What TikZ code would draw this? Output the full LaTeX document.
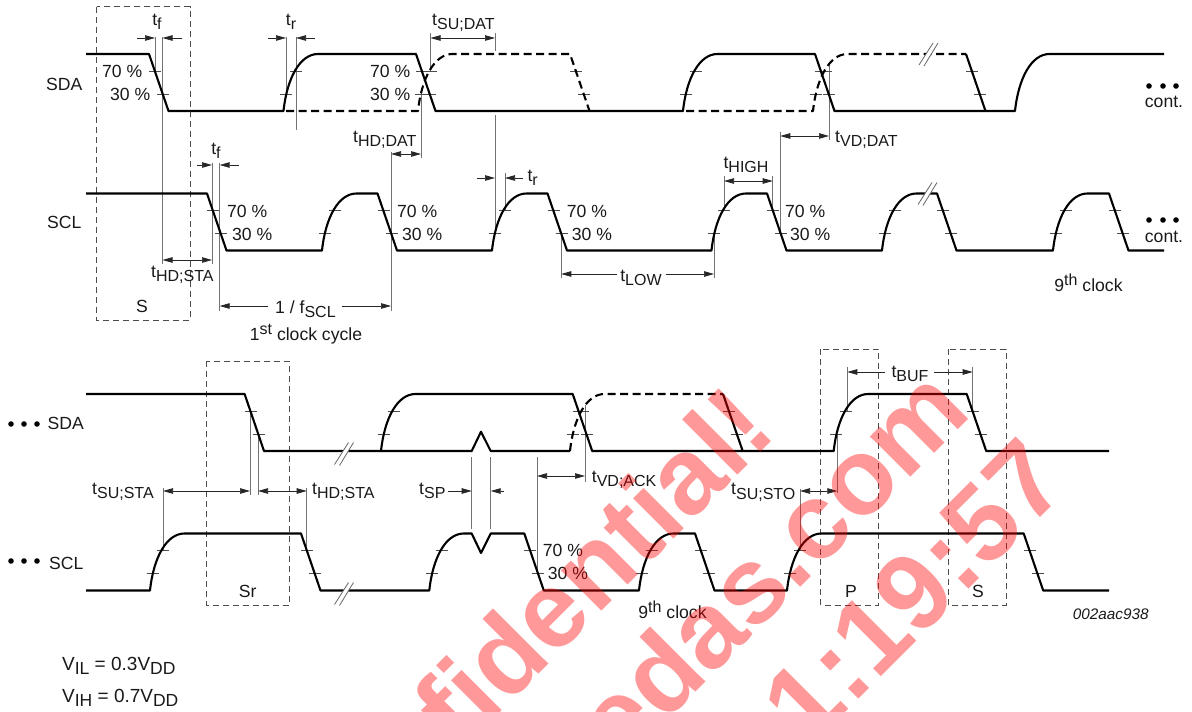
\documentclass[tikz,border=0pt]{standalone}
\usepackage{fontspec}
\setmainfont{Liberation Sans}
\usetikzlibrary{arrows.meta}
\newcommand\rs{.. controls +(3.5,-33) and +(-18,0) .. ++(34.5,-57)}
\newcommand\fsz{\fontsize{17.6}{20}\selectfont}
\newcommand\ssz{\fontsize{16}{18}\selectfont}
\newcommand\tm[1]{t\raisebox{-4.5pt}{\ssz #1}}
\newcommand\fallt[2]{\draw[tickln] ({#1},{#2+17}) -- ({#1+12},{#2+17}); \draw[tickln] ({#1+8},{#2+40}) -- ({#1+20},{#2+40});}
\newcommand\riset[2]{\draw[tickln] ({#1-3.5},{#2-17}) -- ({#1+8.5},{#2-17}); \draw[tickln] ({#1+6.5},{#2-40}) -- ({#1+18.5},{#2-40});}
\newcommand\brk[2]{\fill[white] ({#1-9},{#2+11}) -- ({#1+5},{#2-11}) -- ({#1+10},{#2-11}) -- ({#1-4},{#2+12}) -- cycle;
  \draw[brkln] ({#1-9},{#2+11}) -- ({#1+5},{#2-11}); \draw[brkln] ({#1-4},{#2+12}) -- ({#1+10},{#2-11});}
\tikzset{
  wave/.style={line width=2.1pt,black,line join=round},
  dwave/.style={wave,dash pattern=on 8pt off 4.5pt},
  tickln/.style={line width=.8pt,black!70},
  brkln/.style={line width=.8pt,black!60},
  vline/.style={line width=.9pt,black!55},
  boxln/.style={line width=.9pt,black!70,dash pattern=on 6pt off 4pt},
  dim/.style={line width=.7pt,black!85,-{Triangle[length=10pt,width=5.5pt]}},
  ddim/.style={line width=.7pt,black!85,{Triangle[length=10pt,width=5.5pt]}-{Triangle[length=10pt,width=5.5pt]}},
  lab/.style={inner sep=0pt,text=black!90,font=\fsz},
  wm/.style={inner sep=0pt,text=red,opacity=.4,rotate=45,anchor=base east,font=\fontsize{108}{112}\selectfont\bfseries},
  dot/.style={circle,fill=black,inner sep=0pt,minimum size=5.6pt}
}
\begin{document}
\begin{tikzpicture}[x=1pt,y=-1pt]
\useasboundingbox (0,0) rectangle (1192,712);
% dashed boxes
\draw[boxln] (96.7,6.5) rectangle (190,320);
\draw[boxln] (206.7,361) rectangle (289.3,605);
\draw[boxln] (820.7,349) rectangle (878.7,605);
\draw[boxln] (948.3,349) rectangle (1006.3,605);
% vertical extension lines, row 1
\draw[vline] (155,37) -- (155,71);
\draw[vline] (162.5,37) -- (162.5,264);
\draw[vline] (286,37) -- (286,94);
\draw[vline] (296,37) -- (296,130);
\draw[vline] (430.5,33) -- (430.5,71);
\draw[vline] (495,33) -- (495,51);
\draw[vline] (495,115) -- (495,234);
\draw[vline] (421,88) -- (421,158);
\draw[vline] (391,152) -- (391,311);
\draw[vline] (212,163) -- (212,264);
\draw[vline] (219.7,163) -- (219.7,311);
\draw[vline] (505,173) -- (505,211);
\draw[vline] (561.3,234) -- (561.3,278);
\draw[vline] (714,234) -- (714,278);
\draw[vline] (724,176) -- (724,211);
\draw[vline] (772.7,176) -- (772.7,211);
\draw[vline] (780.3,132) -- (780.3,234);
\draw[vline] (829,65) -- (829,140);
% vertical extension lines, row 2
\draw[vline] (163,488) -- (163,551);
\draw[vline] (250,411) -- (250,495);
\draw[vline] (258,434) -- (258,495);
\draw[vline] (306.7,488) -- (306.7,551);
\draw[vline] (471.7,457) -- (471.7,529);
\draw[vline] (490.7,457) -- (490.7,529);
\draw[vline] (537,457) -- (537,574);
\draw[vline] (585,405) -- (585,482);
\draw[vline] (800,489) -- (800,551);
\draw[vline] (837.3,434) -- (837.3,493);
\draw[vline] (847.3,367) -- (847.3,411);
\draw[vline] (972.7,367) -- (972.7,411);
% ticks row 1
\fallt{149}{54}\riset{283.5}{111}\fallt{416}{54}\riset{418}{111}\fallt{570}{54}\riset{683}{111}\fallt{815}{54}\riset{813}{111}\fallt{966}{54}
\fallt{207}{193.5}\riset{322}{250.5}\fallt{377.5}{193.5}\riset{492}{250.5}\fallt{547.5}{193.5}\riset{711.5}{250.5}\fallt{767}{193.5}\riset{882}{250.5}\fallt{937}{193.5}\riset{1053}{250.5}\fallt{1109}{193.5}
% ticks row 2
\fallt{244.6}{394}\riset{381}{451}\fallt{572.7}{394}\riset{570}{451}\fallt{723}{394}\riset{833.7}{451}\fallt{966.7}{394}
\riset{150}{590.5}\fallt{301}{533.5}\riset{429.3}{590.5}\fallt{524.3}{533.5}\riset{639}{590.5}\fallt{695}{533.5}\riset{787}{590.5}\fallt{1023.7}{533.5}
% waveforms row 1
\draw[wave] (86,54) -- (149,54) -- (168.5,111) -- (283.5,111) \rs -- (416,54) -- (435.5,111) -- (683,111) \rs -- (815,54) -- (834.5,111) -- (1015,111) \rs -- (1164,54);
\draw[wave] (966,54) -- (985.5,111);
\draw[dwave] (286,111) -- (418,111) \rs -- (570,54) -- (589.5,111);
\draw[dwave] (686,111) -- (813,111) \rs -- (966,54);
\draw[wave] (86,193.5) -- (207,193.5) -- (226.5,250.5) -- (322,250.5) \rs -- (377.5,193.5) -- (397,250.5) -- (492,250.5) \rs -- (547.5,193.5) -- (567,250.5) -- (711.5,250.5) \rs -- (767,193.5) -- (786.5,250.5) -- (882,250.5) \rs -- (937,193.5) -- (956.5,250.5) -- (1053,250.5) \rs -- (1109,193.5) -- (1128.5,250.5) -- (1164,250.5);
% waveforms row 2
\draw[wave] (86,394) -- (244.6,394) -- (264,451) -- (381,451) \rs -- (572.7,394) -- (592.2,451) -- (833.7,451) \rs -- (966.7,394) -- (986.2,451) -- (1109,451);
\draw[wave] (381,451) -- (471.7,451) -- (481,431.7) -- (490.7,451) -- (570,451);
\draw[dwave] (570,451) \rs -- (723,394);
\draw[wave] (723,394) -- (742.7,451);
\draw[wave] (86,590.5) -- (150,590.5) \rs -- (301,533.5) -- (320.5,590.5) -- (429.3,590.5) \rs -- (471.7,533.5) -- (481,553) -- (490.7,533.5) -- (524.3,533.5) -- (543.8,590.5) -- (639,590.5) \rs -- (695,533.5) -- (714.5,590.5) -- (787,590.5) \rs -- (1023.7,533.5) -- (1043.2,590.5) -- (1109,590.5);
% breaks
\brk{928}{54}\brk{927}{193.5}\brk{343.5}{453.5}\brk{343.5}{593.5}
% dimension arrows
\draw[dim] (137,38) -- (155,38);
\draw[dim] (182,38) -- (162.5,38);
\draw[dim] (268,38) -- (286,38);
\draw[dim] (315,38) -- (296,38);
\draw[ddim] (430.5,38) -- (495,38);
\draw[ddim] (391,154) -- (421,154);
\draw[dim] (197,165) -- (212,165);
\draw[dim] (239,165) -- (219.7,165);
\draw[ddim] (162.5,260) -- (212,260);
\draw[dim] (268,306) -- (219.7,306);
\draw[dim] (342,306) -- (391,306);
\draw[dim] (476.7,178) -- (495,178);
\draw[dim] (523,178) -- (505,178);
\draw[dim] (617,274) -- (561.3,274);
\draw[dim] (665.7,274) -- (714,274);
\draw[ddim] (724,181) -- (772.7,181);
\draw[ddim] (780.3,136) -- (829,136);
\draw[ddim] (163,491) -- (250,491);
\draw[ddim] (258,491) -- (306.7,491);
\draw[dim] (448,491) -- (471.7,491);
\draw[dim] (504,491) -- (490.7,491);
\draw[ddim] (537,476) -- (585,476);
\draw[ddim] (800,491) -- (837.3,491);
\draw[dim] (885,372) -- (847.3,372);
\draw[dim] (934,372) -- (972.7,372);
% percentage labels
\node[lab,anchor=west] (a1) at (102,71) {70 \%};
\node[lab,anchor=west] (a2) at (110,94) {30 \%};
\node[lab,anchor=west] (a3) at (370,71) {70 \%};
\node[lab,anchor=west] (a4) at (370,94) {30 \%};
\node[lab,anchor=west] (b1) at (227,211) {70 \%};
\node[lab,anchor=west] (b2) at (232,234) {30 \%};
\node[lab,anchor=west] (b3) at (397,211) {70 \%};
\node[lab,anchor=west] (b4) at (402,234) {30 \%};
\node[lab,anchor=west] (b5) at (566.7,211) {70 \%};
\node[lab,anchor=west] (b6) at (571.7,234) {30 \%};
\node[lab,anchor=west] (b7) at (785,211) {70 \%};
\node[lab,anchor=west] (b8) at (790,234) {30 \%};
\node[lab,anchor=west] (c1) at (542.7,550) {70 \%};
\node[lab,anchor=west] (c2) at (547.7,573) {30 \%};
% signal names
\node[lab,anchor=west] (sda1) at (46,84) {SDA};
\node[lab,anchor=west] (scl1) at (47,222) {SCL};
\node[lab,anchor=west] (sda2) at (47.5,423) {SDA};
\node[lab,anchor=west] (scl2) at (49,563) {SCL};
\foreach \i/\x in {1/11,2/24,3/37}{\node[dot] (d\i) at (\x,424) {}; \node[dot] (e\i) at (\x,561) {};}
\foreach \i/\x in {1/1149,2/1163,3/1176}{\node[dot] (f\i) at (\x,86) {}; \node[dot] (g\i) at (\x,220) {};}
\node[lab] (cont1) at (1164,102) {cont.};
\node[lab] (cont2) at (1164,237) {cont.};
% timing labels
\node[lab] (tf1) at (157,22) {\tm{f}};
\node[lab] (tr1) at (291,22) {\tm{r}};
\node[lab,anchor=west] (tsudat) at (432,23) {\tm{SU;DAT}};
\node[lab,anchor=west] (thddat) at (353,140) {\tm{HD;DAT}};
\node[lab] (tf2) at (216,151) {\tm{f}};
\node[lab,anchor=west] (thdsta1) at (151,275) {\tm{HD;STA}};
\node[lab] (s1) at (142,306) {S};
\node[lab,anchor=west] (fscl) at (275,309) {1 / f\raisebox{-4.5pt}{\ssz SCL}};
\node[lab,anchor=base] (cyc) at (306,340) {1\raisebox{6pt}{\ssz st} clock cycle};
\node[lab] (tr2) at (532.7,178) {\tm{r}};
\node[lab] (tlow) at (641,278) {\tm{LOW}};
\node[lab] (thigh) at (746,165) {\tm{HIGH}};
\node[lab,anchor=west] (tvddat) at (835,140) {\tm{VD;DAT}};
\node[lab,anchor=base] (nth1) at (1088.5,291) {9\raisebox{6pt}{\ssz th} clock};
\node[lab,anchor=west] (tsusta) at (92,492) {\tm{SU;STA}};
\node[lab,anchor=west] (thdsta2) at (312,492) {\tm{HD;STA}};
\node[lab,anchor=west] (tsp) at (419,491) {\tm{SP}};
\node[lab,anchor=west] (tvdack) at (591.7,480) {\tm{VD;ACK}};
\node[lab,anchor=west] (tsusto) at (731,492.5) {\tm{SU;STO}};
\node[lab] (tbuf) at (910,374) {\tm{BUF}};
\node[lab] (sr) at (247.7,591) {Sr};
\node[lab] (p) at (851,591) {P};
\node[lab] (s2) at (978,591) {S};
\node[lab,anchor=base] (nth2) at (672.5,618) {9\raisebox{6pt}{\ssz th} clock};
\node[lab,anchor=west,font=\fontsize{15.3}{18}\selectfont\itshape] (code) at (1072.7,614) {002aac938};
\node[lab,anchor=west,font=\fontsize{19}{22}\selectfont] (vil) at (62,666) {V\raisebox{-4.5pt}{\fontsize{17.5}{20}\selectfont IL} = 0.3V\raisebox{-4.5pt}{\fontsize{17.5}{20}\selectfont DD}};
\node[lab,anchor=west,font=\fontsize{19}{22}\selectfont] (vih) at (62,698) {V\raisebox{-4.5pt}{\fontsize{17.5}{20}\selectfont IH} = 0.7V\raisebox{-4.5pt}{\fontsize{17.5}{20}\selectfont DD}};
% watermark
\begin{scope}
\clip (0,0) rectangle (1192,712);
\node[wm] (w1) at (779,434) {fidential!};
\node[wm] (w2) at (974,414) {edas.com};
\node[wm] (w3) at (1072,486) {1:19:57};
\end{scope}
\end{tikzpicture}
\end{document}
